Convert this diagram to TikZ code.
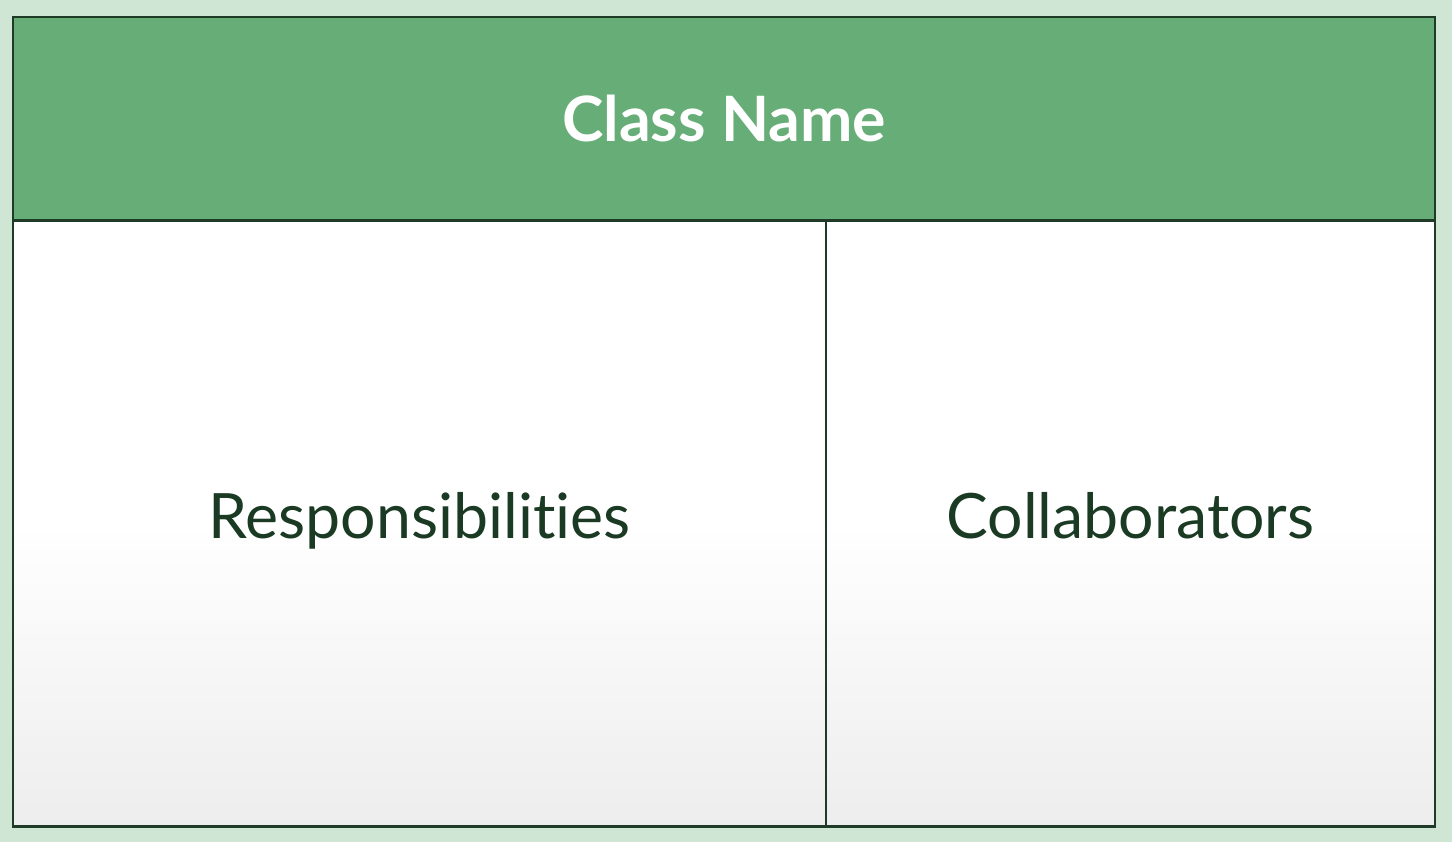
\documentclass[tikz,border=0pt]{standalone}
\usepackage{fontspec}
\setmainfont[Ligatures=NoCommon]{Lato}
\definecolor{cardgreen}{HTML}{67AD78}
\definecolor{cardline}{HTML}{1F3B27}
\definecolor{cardtext}{HTML}{1B3A23}
\definecolor{pagegreen}{HTML}{CFE6D4}
\begin{document}
\begin{tikzpicture}[font=\fontsize{44.5}{52}\selectfont, every node/.style={outer sep=0pt, inner sep=0pt, anchor=west}, line join=miter, line cap=rect]
    \fill[pagegreen] (0, 0) rectangle (36.3, 21.05);
    \useasboundingbox (0, 0) rectangle (36.3, 21.05);
    \node[draw=cardline, line width=2pt, fill=cardgreen, minimum width=35.55cm, minimum height=5.1cm, text=white, font=\fontsize{44.5}{52}\selectfont\bfseries] (classname) at (0.325, 18.075) {Class Name};
    \node[draw=cardline, line width=2pt, top color=white, bottom color=black!7, middle color=white, minimum width=20.325cm, minimum height=15.15cm, text height=33pt, text depth=11pt, text=cardtext] (resp) at (0.325, 7.97) {Responsibilities};
    \node[draw=cardline, line width=2pt, top color=white, bottom color=black!7, middle color=white, minimum width=15.225cm, minimum height=15.15cm, text height=33pt, text depth=11pt, text=cardtext] (collab) at (20.65, 7.97) {Collaborators};
\end{tikzpicture}
\end{document}
